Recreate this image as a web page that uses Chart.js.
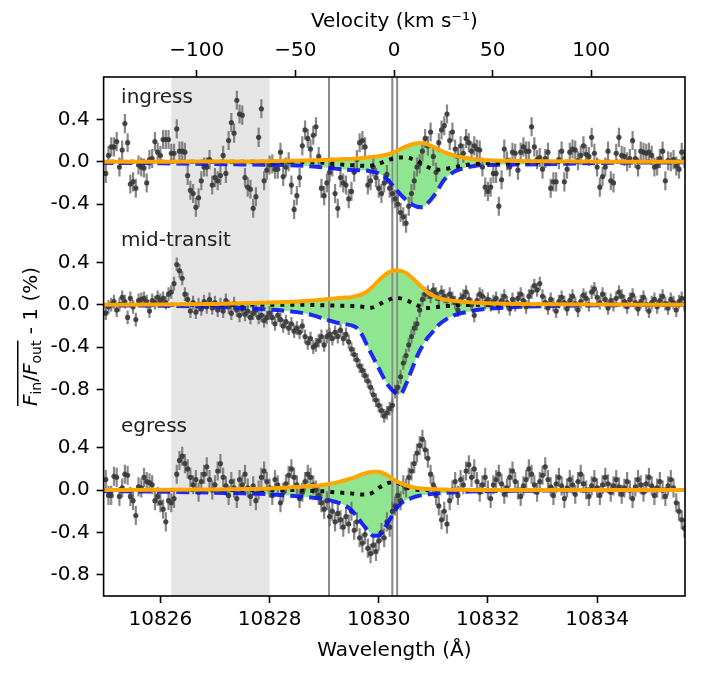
<!DOCTYPE html>
<html>
<head>
<meta charset="utf-8">
<script src="https://cdn.jsdelivr.net/npm/chart.js@4.4.1/dist/chart.umd.min.js"></script>
<style>
  html, body { margin: 0; padding: 0; background: #fff; }
  #wrap { width: 708px; height: 682px; }
</style>
</head>
<body>
<div id="wrap"><canvas id="chart" width="708" height="682"></canvas></div>
<script>
// spectra are sampled on a regular wavelength grid (Angstrom)
const waveStart = 10825.0;
const waveStep = 0.05;

const ingress = [
  -0.11, 0.06, 0.14, 0.14, 0.19, -0.05, 0.11, 0.36, 0.18, -0.21,
  -0.19, -0.25, -0.03, -0.05, -0.06, -0.20, 0.02, 0.03, 0.19, 0.09,
  0.06, 0.21, 0.21, 0.21, 0.08, 0.08, 0.31, 0.10, 0.10, 0.09,
  -0.13, -0.27, -0.30, -0.43, -0.34, -0.18, -0.05, -0.05, 0.02, -0.22,
  -0.15, -0.18, -0.13, 0.06, -0.11, 0.20, 0.37, 0.27, 0.58, 0.45,
  0.44, -0.15, -0.24, -0.26, -0.44, -0.33, 0.23, 0.50, -0.18, -0.08,
  -0.03, -0.02, -0.07, -0.07, 0.09, -0.14, -0.05, 0.00, -0.22, -0.45,
  -0.32, -0.15, 0.15, 0.30, 0.22, 0.12, 0.25, 0.33, 0.05, -0.25,
  -0.32, -0.20, -0.10, -0.05, -0.30, -0.44, -0.15, -0.20, -0.22, -0.35,
  -0.28, -0.10, 0.02, 0.18, 0.20, 0.14, -0.22, -0.18, -0.05, -0.15,
  -0.25, -0.30, -0.20, -0.12, -0.25, -0.30, -0.35, -0.40, -0.48, -0.52,
  -0.58, -0.42, -0.30, -0.18, -0.05, -0.02, 0.10, 0.22, 0.15, 0.28,
  0.05, -0.10, 0.18, 0.30, 0.34, 0.45, 0.20, 0.28, 0.12, 0.05,
  0.15, 0.08, 0.22, 0.18, 0.10, 0.15, 0.12,
  0.11, -0.05, -0.24, -0.28, -0.24, -0.11, -0.11, -0.42, -0.17, 0.12,
  0.01, -0.05, 0.09, 0.08, -0.08, 0.09, 0.14, 0.10, 0.10, 0.33,
  0.14, 0.02, 0.04, -0.07, 0.03, 0.09, -0.25, -0.19, -0.19, 0.02,
  0.10, -0.19, -0.07, 0.09, 0.12, 0.11, 0.01, 0.06, 0.15, 0.07,
  0.05, 0.23, 0.08, -0.05, -0.24, -0.14, -0.05, 0.10, -0.18, -0.20,
  0.08, 0.23, 0.06, 0.05, 0.00, 0.03, 0.20, 0.03, -0.05, 0.10,
  0.09, 0.08, 0.09, 0.06, -0.05, -0.04, 0.03, 0.10, -0.18, 0.01,
  0.00, 0.02, -0.04, -0.07, 0.09, 0.03
];

const midTransit = [
  -0.08, -0.02, 0.00, 0.03, -0.05, 0.00, 0.07, 0.03, -0.12, 0.06,
  -0.02, -0.14, 0.04, 0.05, 0.06, 0.03, -0.06, 0.04, 0.02, 0.07,
  0.04, 0.06, 0.02, 0.10, 0.12, 0.20, 0.38, 0.32, 0.25, 0.10,
  0.05, -0.06, 0.02, -0.07, 0.00, -0.04, 0.03, -0.02, 0.05, -0.03,
  0.02, -0.05, 0.00, -0.06, 0.04, -0.02, -0.08, 0.01, -0.05, -0.10,
  -0.04, -0.09, -0.06, -0.12, -0.08, -0.05, -0.12, -0.10, -0.15, -0.12,
  -0.08, -0.12, -0.18, -0.10, -0.14, -0.20, -0.16, -0.22, -0.18, -0.25,
  -0.22, -0.26, -0.20, -0.30, -0.36, -0.32, -0.40, -0.38, -0.34, -0.30,
  -0.38, -0.30, -0.28, -0.32, -0.26, -0.30, -0.24, -0.32, -0.28, -0.35,
  -0.42, -0.47, -0.52, -0.58, -0.62, -0.67, -0.72, -0.78, -0.85, -0.90,
  -0.95, -1.00, -1.05, -1.02, -0.98, -0.95, -0.82, -0.78, -0.68, -0.55,
  -0.48, -0.38, -0.30, -0.22, -0.18, -0.05, 0.05, 0.10, 0.12, 0.08,
  0.14, 0.10, 0.06, 0.12, 0.08, 0.04, 0.10, 0.06, 0.02, -0.05,
  0.05, 0.08, 0.12, 0.05, 0.00, -0.10, 0.04, 0.10, 0.08, 0.02,
  0.05, 0.00, 0.03, 0.06, -0.02, 0.04, 0.08, 0.02, -0.04, 0.05,
  0.00, 0.06, 0.10, 0.04, -0.02, 0.08, 0.12, 0.18, 0.14, 0.20,
  0.08, 0.02, -0.03, 0.05, 0.00, -0.06, 0.03, 0.07, 0.02, -0.04,
  0.04, 0.08, 0.01, -0.05, 0.03, 0.09, 0.06, 0.00, 0.12, 0.15,
  0.07, 0.02, 0.10, 0.05, -0.03, 0.04, 0.00, 0.06, 0.12, 0.08,
  0.03, -0.02, 0.05, 0.09, 0.02, -0.04, 0.03, 0.07, 0.00, -0.06,
  0.02, 0.05, -0.02, 0.04, 0.08, 0.01, -0.03, 0.05, 0.02, -0.05,
  0.03, 0.06, 0.00
];

const egress = [
  0.10, -0.05, -0.05, 0.13, 0.12, -0.06, 0.02, 0.15, 0.14, -0.06,
  -0.10, -0.24, 0.03, 0.02, 0.12, 0.08, 0.07, 0.05, -0.10, -0.06,
  -0.12, -0.18, -0.30, -0.10, -0.12, -0.08, 0.15, 0.28, 0.32, 0.25,
  0.20, 0.12, 0.05, 0.10, -0.02, 0.08, 0.15, 0.22, 0.10, 0.00,
  0.05, 0.18, 0.25, 0.12, 0.04, -0.05, 0.08, 0.02, -0.08, 0.10,
  0.05, 0.15, 0.02, -0.06, 0.04, -0.10, 0.00, 0.12, 0.18, 0.08,
  0.02, -0.05, 0.10, 0.05, -0.12, -0.02, 0.06, 0.14, 0.20, 0.12,
  0.05, -0.08, -0.02, 0.08, 0.15, 0.12, 0.05, 0.00, -0.05, -0.12,
  -0.18, -0.10, -0.25, -0.20, -0.30, -0.22, -0.28, -0.35, -0.25, -0.32,
  -0.20, -0.38, -0.30, -0.45, -0.50, -0.42, -0.55, -0.60, -0.52, -0.58,
  -0.48, -0.40, -0.45, -0.30, -0.35, -0.20, -0.15, -0.05, -0.10, 0.05,
  0.02, 0.12, 0.18, 0.25, 0.35, 0.42, 0.48, 0.38, 0.30, 0.15,
  0.05, -0.05, -0.15, -0.28, -0.20, -0.32, -0.10, 0.00, 0.08, -0.05,
  0.10, 0.05, 0.18, 0.24, 0.12, 0.20, 0.08, -0.02, 0.05, 0.12,
  0.00, -0.08, 0.05, 0.10, 0.15, 0.06, -0.04, 0.02, 0.12, 0.18,
  0.08, 0.00, -0.06, 0.04, 0.10, 0.20, 0.15, 0.05, -0.02, 0.08,
  0.14, 0.22, 0.10, 0.03, -0.05, 0.06, 0.12, 0.04, -0.08, 0.02,
  0.10, 0.05, -0.04, 0.08, 0.15, 0.06, 0.00, -0.06, 0.04, 0.10,
  0.02, -0.05, 0.05, 0.12, 0.06, -0.02, 0.04, 0.10, 0.03, -0.04,
  0.02, 0.08, 0.00, -0.08, 0.03, 0.10, 0.05, -0.02, 0.06, 0.12,
  0.04, -0.05, 0.02, 0.08, 0.00, -0.06, 0.04, 0.10, 0.02, -0.12,
  -0.20, -0.28, -0.36
];

// typical half-length of the error bars in each panel
const ingressErr = 0.09;
const midTransitErr = 0.065;
const egressErr = 0.09;

// model curves, read at these wavelengths
const modelWave = [10824.9, 10826.0, 10827.0, 10827.5, 10828.0, 10828.5, 10828.8, 10829.0, 10829.2, 10829.4,
  10829.5, 10829.6, 10829.7, 10829.8, 10829.9, 10830.0, 10830.1, 10830.2, 10830.3, 10830.4,
  10830.5, 10830.6, 10830.7, 10830.8, 10830.9, 10831.0, 10831.1, 10831.2, 10831.4, 10831.6,
  10831.8, 10832.0, 10832.5, 10833.0, 10834.0, 10835.7];

const ingressOrange = [0, 0, 0.002, 0.003, 0.005, 0.01, 0.013, 0.016, 0.02, 0.025,
  0.027, 0.03, 0.035, 0.04, 0.046, 0.052, 0.062, 0.075, 0.095, 0.12,
  0.145, 0.163, 0.174, 0.176, 0.162, 0.14, 0.115, 0.09, 0.055, 0.035,
  0.022, 0.015, 0.008, 0.004, 0.001, 0];
const ingressBlue = [-0.01, -0.015, -0.022, -0.025, -0.028, -0.035, -0.045, -0.055, -0.065, -0.075,
  -0.078, -0.08, -0.082, -0.085, -0.095, -0.11, -0.14, -0.19, -0.25, -0.31,
  -0.36, -0.40, -0.425, -0.43, -0.39, -0.33, -0.25, -0.17, -0.09, -0.055,
  -0.035, -0.03, -0.027, -0.024, -0.012, -0.005];
const ingressDotted = [0, 0, 0, 0, 0, 0, -0.005, -0.01, -0.02, -0.03,
  -0.033, -0.035, -0.038, -0.04, -0.032, -0.02, 0.0, 0.02, 0.035, 0.04,
  0.038, 0.03, 0.01, -0.02, -0.05, -0.07, -0.075, -0.07, -0.05, -0.03,
  -0.02, -0.015, -0.01, -0.005, 0, 0];

const midOrange = [0, 0.003, 0.008, 0.013, 0.02, 0.03, 0.04, 0.05, 0.06, 0.068,
  0.072, 0.085, 0.1, 0.13, 0.175, 0.23, 0.275, 0.31, 0.326, 0.32,
  0.30, 0.26, 0.21, 0.16, 0.115, 0.085, 0.065, 0.05, 0.035, 0.026,
  0.018, 0.013, 0.007, 0.004, 0.001, 0];
const midBlue = [-0.005, -0.01, -0.02, -0.03, -0.045, -0.07, -0.1, -0.135, -0.165, -0.185,
  -0.195, -0.22, -0.29, -0.40, -0.50, -0.60, -0.70, -0.78, -0.83, -0.84,
  -0.75, -0.62, -0.49, -0.39, -0.31, -0.25, -0.19, -0.15, -0.095, -0.07,
  -0.05, -0.038, -0.022, -0.014, -0.006, -0.002];
const midDotted = [0, 0, 0, 0, 0, 0, -0.003, -0.005, -0.008, -0.01,
  -0.012, -0.015, -0.02, -0.028, -0.025, 0.0, 0.03, 0.05, 0.065, 0.06,
  0.045, 0.02, -0.005, -0.028, -0.032, -0.028, -0.02, -0.015, -0.006, -0.003,
  0, 0, 0, 0, 0, 0];

const egressOrange = [0, 0.002, 0.006, 0.01, 0.016, 0.028, 0.04, 0.05, 0.068, 0.095,
  0.11, 0.13, 0.15, 0.163, 0.172, 0.172, 0.155, 0.125, 0.09, 0.065,
  0.045, 0.03, 0.02, 0.015, 0.011, 0.008, 0.006, 0.005, 0.003, 0.002,
  0.001, 0.001, 0, 0, 0, 0];
const egressBlue = [-0.01, -0.015, -0.025, -0.03, -0.04, -0.058, -0.072, -0.085, -0.11, -0.15,
  -0.19, -0.25, -0.32, -0.38, -0.43, -0.43, -0.36, -0.28, -0.19, -0.13,
  -0.095, -0.075, -0.058, -0.048, -0.04, -0.035, -0.03, -0.027, -0.02, -0.015,
  -0.012, -0.01, -0.007, -0.005, -0.002, 0];
const egressDotted = [0, 0, 0, 0, 0, 0, -0.008, -0.012, -0.02, -0.028,
  -0.032, -0.038, -0.042, -0.04, -0.02, 0.02, 0.05, 0.07, 0.075, 0.055,
  0.03, 0.01, 0.003, 0, 0, 0, 0, 0, 0, 0,
  0, 0, 0, 0, 0, 0];

// axis ticks and marked wavelengths
const waveTicks = [10826, 10828, 10830, 10832, 10834];
const velTicks = [-100, -50, 0, 50, 100];
const panelTickLabels = [[0.4, 0.0, -0.4], [0.4, 0.0, -0.4, -0.8], [0.4, 0.0, -0.4, -0.8]];
const heLines = [10829.09, 10830.25, 10830.34];
const shadedBand = [10826.2, 10828.0];
const panelNames = ['ingress', 'mid-transit', 'egress'];

// layout
const panelOffsets = [0, -1.35, -3.1];
const xMin = 10824.96, xMax = 10835.61;
const lambda0 = 10830.28, cKms = 299792.458;
const vel = w => (w - lambda0) / lambda0 * cKms;

Chart.defaults.font.family = '"DejaVu Sans", sans-serif';
Chart.defaults.font.size = 20;
Chart.defaults.color = '#000';

const panels = [
  { obs: ingress, err: ingressErr, orange: ingressOrange, blue: ingressBlue, dotted: ingressDotted },
  { obs: midTransit, err: midTransitErr, orange: midOrange, blue: midBlue, dotted: midDotted },
  { obs: egress, err: egressErr, orange: egressOrange, blue: egressBlue, dotted: egressDotted }
];

const datasets = [];
panels.forEach((p, k) => {
  const off = panelOffsets[k];
  const curve = arr => modelWave.map((w, i) => ({ x: w, y: arr[i] + off }));
  const smooth = { pointRadius: 0, cubicInterpolationMode: 'monotone' };
  // green band between orange and blue curves
  datasets.push(Object.assign({ data: curve(p.orange), borderWidth: 0, backgroundColor: '#90e690',
    fill: '+1', order: 5, band: true }, smooth));
  datasets.push(Object.assign({ data: curve(p.blue), borderColor: 'rgba(10,20,245,0.9)', borderWidth: 4,
    borderDash: [13, 6], fill: false, order: 3 }, smooth));
  datasets.push({ data: p.obs.map((v, i) => ({ x: waveStart + i * waveStep, y: v + off })),
    showLine: false, pointRadius: 2.6, pointBorderWidth: 0, pointBackgroundColor: 'rgba(55,55,55,0.9)',
    fill: false, order: 4, errorBar: p.err });
  datasets.push(Object.assign({ data: curve(p.dotted), borderColor: '#111', borderWidth: 4,
    borderDash: [4, 6], fill: false, order: 2 }, smooth));
  datasets.push(Object.assign({ data: curve(p.orange), borderColor: '#ffa500', borderWidth: 4,
    fill: false, order: 1 }, smooth));
});

const yTicks = [];
panelTickLabels.forEach((labels, k) => labels.forEach(t => {
  yTicks.push({ value: +(t + panelOffsets[k]).toFixed(3), label: t.toFixed(1) });
}));

const decorations = {
  id: 'decorations',
  beforeDatasetsDraw(chart) {
    const { ctx, chartArea: a, scales: { x } } = chart;
    ctx.save();
    ctx.fillStyle = '#e5e5e5';
    const x0 = x.getPixelForValue(shadedBand[0]), x1 = x.getPixelForValue(shadedBand[1]);
    ctx.fillRect(x0, a.top, x1 - x0, a.bottom - a.top);
    ctx.restore();
  },
  afterDatasetDraw(chart, args) {
    const ds = chart.data.datasets[args.index];
    if (!ds.band) return;
    const { ctx, chartArea: a, scales: { x } } = chart;
    ctx.save();
    ctx.strokeStyle = '#8a8a8a';
    ctx.lineWidth = 1.5;
    heLines.forEach(w => {
      const px = x.getPixelForValue(w);
      ctx.beginPath();
      ctx.moveTo(px, a.top);
      ctx.lineTo(px, a.bottom);
      ctx.stroke();
    });
    ctx.restore();
  },
  beforeDatasetDraw(chart, args) {
    const ds = chart.data.datasets[args.index];
    if (!ds.errorBar) return;
    const { ctx, chartArea: a, scales: { y } } = chart;
    ctx.save();
    ctx.beginPath();
    ctx.rect(a.left, a.top, a.right - a.left, a.bottom - a.top);
    ctx.clip();
    ctx.strokeStyle = 'rgba(105,105,105,0.8)';
    ctx.lineWidth = 2.2;
    ctx.beginPath();
    args.meta.data.forEach((pt, i) => {
      const v = ds.data[i].y;
      ctx.moveTo(pt.x, y.getPixelForValue(v + ds.errorBar));
      ctx.lineTo(pt.x, y.getPixelForValue(v - ds.errorBar));
    });
    ctx.stroke();
    ctx.restore();
  },
  afterDatasetsDraw(chart) {
    const { ctx, scales: { x, y } } = chart;
    ctx.save();
    ctx.font = '20px "DejaVu Sans"';
    ctx.fillStyle = '#222';
    ctx.textBaseline = 'alphabetic';
    panelNames.forEach((name, k) => {
      ctx.fillText(name, x.getPixelForValue(10825.28), y.getPixelForValue(panelOffsets[k] + 0.55));
    });
    ctx.restore();
  },
  afterDraw(chart) {
    const { ctx, chartArea: a } = chart;
    ctx.save();
    // frame
    ctx.strokeStyle = '#000';
    ctx.lineWidth = 1.6;
    ctx.strokeRect(a.left, a.top, a.right - a.left, a.bottom - a.top);
    // y-axis title with overline and subscripts
    const big = '20px "DejaVu Sans"', ital = 'italic 20px "DejaVu Sans"', sub = '14px "DejaVu Sans"';
    const parts = [
      { t: 'F', f: ital, dy: 0, bar: true },
      { t: 'in', f: sub, dy: 4, bar: true },
      { t: '/', f: big, dy: 0, bar: true },
      { t: 'F', f: ital, dy: 0, bar: true },
      { t: 'out', f: sub, dy: 4, bar: true },
      { t: ' - 1 (%)', f: big, dy: 0, bar: false }
    ];
    ctx.translate(37, (a.top + a.bottom) / 2);
    ctx.rotate(-Math.PI / 2);
    ctx.fillStyle = '#000';
    ctx.textBaseline = 'alphabetic';
    let total = 0;
    parts.forEach(p => { ctx.font = p.f; p.w = ctx.measureText(p.t).width; total += p.w; });
    let cx = -total / 2, barEnd = cx;
    parts.forEach(p => {
      ctx.font = p.f;
      ctx.fillText(p.t, cx, p.dy);
      cx += p.w;
      if (p.bar) barEnd = cx;
    });
    ctx.fillRect(-total / 2, -20, barEnd + total / 2, 1.5);
    ctx.restore();
  }
};

const tickGrid = { drawOnChartArea: false, drawTicks: true, tickLength: 7, tickWidth: 1.6, tickColor: '#000' };

new Chart(document.getElementById('chart'), {
  type: 'line',
  data: { datasets },
  options: {
    responsive: false,
    animation: false,
    events: [],
    layout: { padding: { right: 23 } },
    plugins: { legend: { display: false }, tooltip: { enabled: false } },
    scales: {
      x: {
        type: 'linear', position: 'bottom', min: xMin, max: xMax,
        afterBuildTicks: s => { s.ticks = waveTicks.map(v => ({ value: v })); },
        afterFit: s => { s.height = 86; },
        grid: tickGrid, border: { display: false },
        ticks: { padding: 5, autoSkip: false, maxRotation: 0, callback: v => String(v) },
        title: { display: true, text: 'Wavelength (Å)', padding: { top: 0, bottom: 19 } }
      },
      x2: {
        type: 'linear', position: 'top', min: vel(xMin), max: vel(xMax),
        afterBuildTicks: s => { s.ticks = velTicks.map(v => ({ value: v })); },
        afterFit: s => { s.height = 77; },
        grid: tickGrid, border: { display: false },
        ticks: { padding: 7, autoSkip: false, maxRotation: 0,
          callback: v => (v < 0 ? '\u2212' + Math.abs(v) : String(v)) },
        title: { display: true, text: 'Velocity (km s\u207B\u00B9)', padding: { top: 10, bottom: 0 } }
      },
      y: {
        type: 'linear', position: 'left', min: -4.1, max: 0.8,
        afterBuildTicks: s => { s.ticks = yTicks.map(t => ({ value: t.value })); },
        afterFit: s => { s.width = 103.6; },
        grid: tickGrid, border: { display: false },
        ticks: { padding: 7, autoSkip: false,
          callback: v => { const t = yTicks.find(q => Math.abs(q.value - v) < 1e-6); return t ? t.label : ''; } }
      }
    }
  },
  plugins: [decorations]
});
</script>
</body>
</html>
